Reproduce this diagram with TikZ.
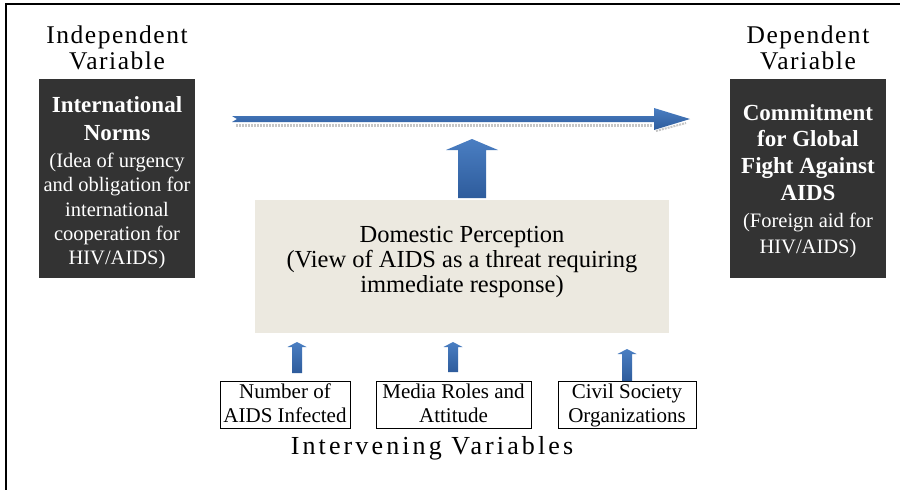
\documentclass[tikz,border=0pt]{standalone}
\usepackage{fontspec}
\setmainfont{Liberation Serif}
\definecolor{darkbox}{HTML}{333333}
\definecolor{beige}{HTML}{ECE9E0}
\definecolor{arrowtop}{HTML}{4A7EC2}
\definecolor{arrowbot}{HTML}{2E5C9C}
\newcommand{\blockarrowup}[6]{% cx, ybottom, ytip, shaft half width, head half width, head length
  \shade[top color=arrowtop, bottom color=arrowbot]
    (#1-#4,#2) -- (#1-#4,#3+#6) -- (#1-#5,#3+#6) -- (#1,#3) --
    (#1+#5,#3+#6) -- (#1+#4,#3+#6) -- (#1+#4,#2) -- cycle;}
\begin{document}
\begin{tikzpicture}[x=1pt,y=-1pt,
  heading/.style={anchor=north, inner sep=0pt, align=center, text=black,
    font=\fontsize{25.5}{25.5}\selectfont\addfontfeature{LetterSpace=6}},
  darkpanel/.style={fill=darkbox, draw=none, minimum width=156pt, minimum height=199pt, inner sep=0pt},
  boldtxt/.style={anchor=north, inner sep=0pt, align=center, text=white,
    font=\bfseries\fontsize{23}{#1}\selectfont},
  regtxt/.style={anchor=north, inner sep=0pt, align=center, text=white,
    font=\fontsize{20.5}{#1}\selectfont},
  smallbox/.style={draw=black, line width=1pt, fill=white, minimum height=47pt, inner sep=0pt},
  smalltxt/.style={anchor=north, inner sep=0pt, align=center,
    font=\fontsize{21}{24.5}\selectfont}]
\useasboundingbox (0,0) rectangle (900,490);
\fill[white] (0,0) rectangle (900,490);
% frame lines
\draw[line width=1.3pt] (6,490) -- (6,4) -- (900,4);

% headings
\node[heading] (hindep) at (117,26) {Independent\\Variable};
\node[heading] (hdep) at (808,26) {Dependent\\Variable};

% dark panels
\node[darkpanel] (indep) at (117,178.5) {};
\node[darkpanel] (dep) at (808,178.5) {};
\node[boldtxt=28] (indepT) at (117,96) {International\\Norms};
\node[regtxt=24.2] (indepS) at (117,153) {(Idea of urgency\\and obligation for\\international\\cooperation for\\HIV/AIDS)};
\node[boldtxt=26.8] (depT) at (808,104) {Commitment\\for Global\\Fight Against\\AIDS};
\node[regtxt=26] (depS) at (808,213) {(Foreign aid for\\HIV/AIDS)};

% main horizontal arrow with faint reflection
\draw[gray!45, line width=3pt, dash pattern=on 2pt off 1pt] (236,125) -- (652,125);
\draw[gray!45, line width=2pt, dash pattern=on 2pt off 1pt] (656,131) -- (686,123);
\shade[top color=arrowtop, bottom color=arrowbot]
  (232,116) -- (654,116) -- (654,108) -- (690,119) -- (654,130) -- (654,122) --
  (232,122) -- (237,119) -- cycle;

% big vertical arrow
\blockarrowup{472}{198}{139}{14}{26}{11}

% domestic perception box
\node[fill=beige, draw=none, minimum width=414pt, minimum height=133pt, inner sep=0pt] (dom) at (462,266) {};
\node[anchor=north, inner sep=0pt, align=center, font=\fontsize{24.5}{25}\selectfont] (domT) at (462,226.5)
  {Domestic Perception\\(View of AIDS as a threat requiring\\immediate response)};

% intervening variable boxes
\node[smallbox, minimum width=130pt] (b1) at (285,404.5) {};
\node[smallbox, minimum width=155pt] (b2) at (453.5,404.5) {};
\node[smallbox, minimum width=138pt] (b3) at (627,404.5) {};
\node[smalltxt] (b1T) at (285,383.5) {Number of\\AIDS Infected};
\node[smalltxt] (b2T) at (453.5,383.5) {Media Roles and\\Attitude};
\node[smalltxt] (b3T) at (627,383.5) {Civil Society\\Organizations};

% small arrows
\blockarrowup{297}{373}{342}{5}{9.5}{5}
\blockarrowup{453}{372}{342}{5}{9.5}{5}
\blockarrowup{627}{381}{349}{5}{9.5}{5}

% bottom label
\node[anchor=north, inner sep=0pt, font=\fontsize{26}{26}\selectfont\addfontfeature{LetterSpace=12}] (interv) at (432,436) {Intervening Variables};
\end{tikzpicture}
\end{document}
